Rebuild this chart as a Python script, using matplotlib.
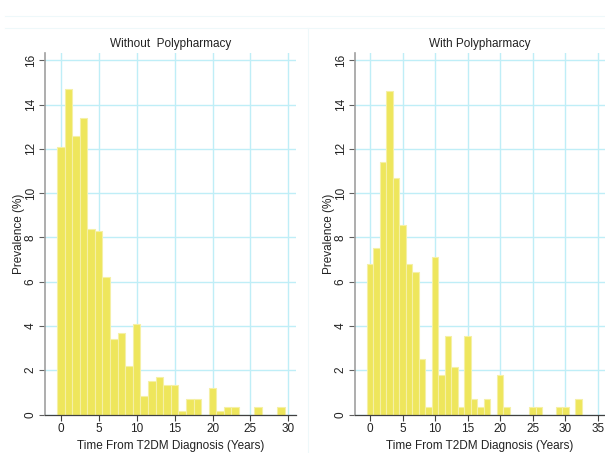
import matplotlib.pyplot as plt
from matplotlib.lines import Line2D

plt.rcParams["font.family"] = ["Liberation Sans", "DejaVu Sans"]

# years since T2DM diagnosis (bar centres) and prevalence (%)
years_without = list(range(0, 30))
prev_without = [12.1, 14.7, 12.6, 13.4, 8.4, 8.3, 6.2, 3.4, 3.7, 2.2,
                4.1, 0.85, 1.5, 1.7, 1.35, 1.35, 0.17, 0.68, 0.68, 0.0,
                1.2, 0.17, 0.34, 0.34, 0.0, 0.0, 0.34, 0.0, 0.0, 0.34]

years_with = list(range(0, 33))
prev_with = [6.8, 7.5, 11.4, 14.6, 10.7, 8.55, 6.8, 6.45, 2.5, 0.35,
             7.1, 1.8, 3.55, 2.15, 0.35, 3.55, 0.7, 0.35, 0.7, 0.0,
             1.8, 0.35, 0.0, 0.0, 0.0, 0.35, 0.35, 0.0, 0.0, 0.35,
             0.35, 0.0, 0.7]

y_ticks = [0, 2, 4, 6, 8, 10, 12, 14, 16]
x_ticks_left = [0, 5, 10, 15, 20, 25, 30]
x_ticks_right = [0, 5, 10, 15, 20, 25, 30, 35]

W, H = 605, 453
fig = plt.figure(figsize=(W / 100, H / 100), dpi=100, facecolor="white")

bar_col = "#eee65c"
edge_col = "#f5f0a6"
grid_col = "#bfeef7"


def make_panel(rect, years, prev, xticks, xlim, title):
    ax = fig.add_axes(rect)
    ax.bar(years, prev, width=1.0, color=bar_col, edgecolor=edge_col,
           linewidth=0.8, zorder=2)
    ax.set_xlim(*xlim)
    ax.set_ylim(0, 16.33)
    ax.set_xticks(xticks)
    ax.set_yticks(y_ticks)
    ax.grid(True, color=grid_col, linewidth=1.0, zorder=0)
    ax.set_axisbelow(True)
    for s in ["top", "right"]:
        ax.spines[s].set_visible(False)
    ax.spines["left"].set_color("#a0a0a0")
    ax.spines["left"].set_linewidth(1.2)
    ax.spines["bottom"].set_color("#404040")
    ax.spines["bottom"].set_linewidth(0.9)
    ax.tick_params(axis="x", colors="#404040", labelsize=8.5, length=4,
                   labelcolor="#222222", pad=2)
    ax.tick_params(axis="y", colors="#606060", labelsize=8.5, length=4,
                   labelcolor="#222222", labelrotation=90, pad=2)
    for lab in ax.get_yticklabels():
        lab.set_va("center")
    ax.set_xlabel("Time From T2DM Diagnosis (Years)", fontsize=8.5,
                  color="#222222", labelpad=4)
    ax.set_ylabel("Prevalence (%)", fontsize=8.5, color="#222222",
                  labelpad=0)
    ax.set_title(title, fontsize=8.5, color="#222222", pad=4)
    return ax


def px_rect(x0, y0, x1, y1):
    return [x0 / W, 1 - y1 / H, (x1 - x0) / W, (y1 - y0) / H]


make_panel(px_rect(45, 53, 296, 414.5), years_without, prev_without,
           x_ticks_left, (-2.07, 31.0), "Without  Polypharmacy")
make_panel(px_rect(355, 53, 605, 414.5), years_with, prev_with,
           x_ticks_right, (-2.3, 36.1), "With Polypharmacy")

# faint frame lines of the combined graph
faint = "#eef8fa"
fig.add_artist(Line2D([5 / W, 1], [1 - 16 / H] * 2, color=faint, lw=0.8))
fig.add_artist(Line2D([5 / W, 1], [1 - 28 / H] * 2, color=faint, lw=0.8))
fig.add_artist(Line2D([308 / W] * 2, [0, 1 - 28 / H], color=faint, lw=0.8))

fig.savefig("out.png", dpi=100, facecolor="white")
